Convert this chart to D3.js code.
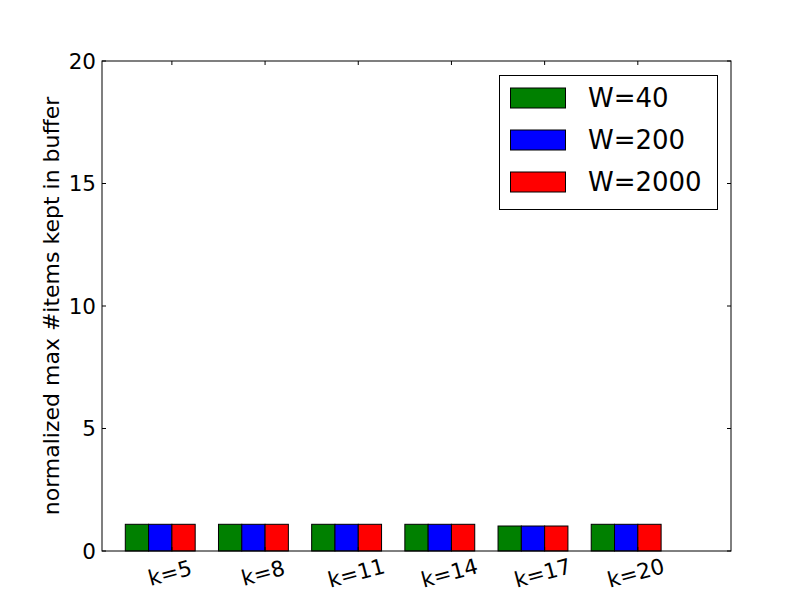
<!DOCTYPE html>
<html>
<head>
<meta charset="utf-8">
<script src="https://cdn.jsdelivr.net/npm/d3@7"></script>
<style>
  body { margin: 0; background: #fff; }
  text { font-family: "DejaVu Sans", sans-serif; fill: #000; }
</style>
</head>
<body>
<div id="chart"></div>
<script>
var categories = ["k=5", "k=8", "k=11", "k=14", "k=17", "k=20"];
var seriesNames = ["W=40", "W=200", "W=2000"];
var seriesColors = ["#008000", "#0000ff", "#ff0000"];
var w40 = [1.09, 1.09, 1.09, 1.09, 1.02, 1.09];
var w200 = [1.09, 1.09, 1.09, 1.09, 1.02, 1.09];
var w2000 = [1.09, 1.09, 1.09, 1.09, 1.02, 1.09];
var yTicks = [0, 5, 10, 15, 20];

var series = [w40, w200, w2000];

var width = 812, height = 612,
    mLeft = 102, mTop = 61, mRight = 731, mBottom = 551,
    barW = 0.25;

var svg = d3.select("#chart").append("svg")
    .attr("width", width)
    .attr("height", height);

var x = d3.scaleLinear().domain([0, 6.75]).range([mLeft, mRight]);
var y = d3.scaleLinear().domain([0, 20]).range([mBottom, mTop]);

// bars
series.forEach(function(vals, s) {
    svg.append("g").selectAll("rect")
        .data(vals)
        .enter().append("rect")
          .attr("x", function(d, i) { return x(i + barW + s * barW); })
          .attr("y", function(d) { return y(d); })
          .attr("width", x(barW) - x(0))
          .attr("height", function(d) { return y(0) - y(d); })
          .style("fill", seriesColors[s])
          .style("stroke", "#000")
          .style("stroke-width", 1);
});

// frame
svg.append("rect")
    .attr("x", mLeft).attr("y", mTop)
    .attr("width", mRight - mLeft).attr("height", mBottom - mTop)
    .style("fill", "none").style("stroke", "#000").style("stroke-width", 1);

// y ticks
var yg = svg.append("g");
yTicks.forEach(function(t) {
    yg.append("line").attr("x1", mLeft).attr("x2", mLeft + 4)
        .attr("y1", y(t)).attr("y2", y(t)).style("stroke", "#000");
    yg.append("line").attr("x1", mRight).attr("x2", mRight - 4)
        .attr("y1", y(t)).attr("y2", y(t)).style("stroke", "#000");
    yg.append("text").attr("x", mLeft - 6).attr("y", y(t))
        .attr("text-anchor", "end").attr("dy", "0.35em")
        .style("font-size", "21.5px").text(t);
});

// x ticks
var xg = svg.append("g");
categories.forEach(function(c, i) {
    var px = x(i + 0.75);
    xg.append("line").attr("x1", px).attr("x2", px)
        .attr("y1", mBottom).attr("y2", mBottom - 4).style("stroke", "#000");
    xg.append("line").attr("x1", px).attr("x2", px)
        .attr("y1", mTop).attr("y2", mTop + 4).style("stroke", "#000");
    xg.append("text")
        .attr("transform", "translate(" + (px - 2) + "," + (mBottom + 22) + ") rotate(-15)")
        .attr("text-anchor", "middle").attr("dy", "0.35em")
        .style("font-size", "21.5px").text(c);
});

// y label
svg.append("text")
    .attr("transform", "translate(51," + ((mTop + mBottom) / 2) + ") rotate(-90)")
    .attr("text-anchor", "middle").attr("dy", "0.35em")
    .style("font-size", "22px")
    .text("normalized max #items kept in buffer");

// legend
var lg = svg.append("g");
lg.append("rect").attr("x", 499.5).attr("y", 75.5)
    .attr("width", 218).attr("height", 134)
    .style("fill", "#fff").style("stroke", "#000");
seriesNames.forEach(function(n, s) {
    var cy = 98 + s * 42;
    lg.append("rect").attr("x", 510.5).attr("y", cy - 10)
        .attr("width", 55).attr("height", 20)
        .style("fill", seriesColors[s]).style("stroke", "#000");
    lg.append("text").attr("x", 588).attr("y", cy)
        .attr("dy", "0.35em").style("font-size", "26px").text(n);
});
</script>
</body>
</html>
